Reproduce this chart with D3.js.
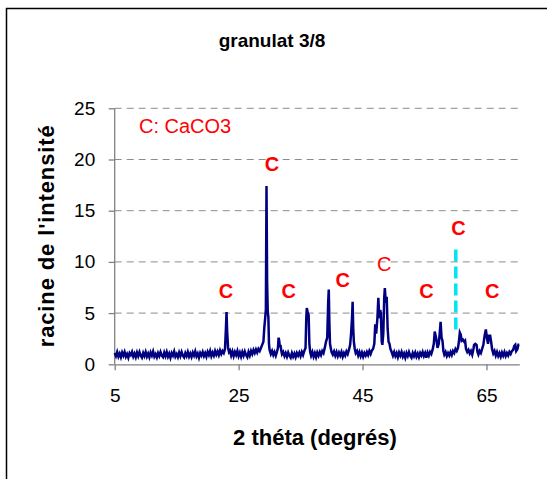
<!DOCTYPE html>
<html>
<head>
<meta charset="utf-8">
<script src="https://cdn.jsdelivr.net/npm/d3@7/dist/d3.min.js"></script>
<style>
  html, body { margin: 0; padding: 0; background: #fff; }
  svg { display: block; font-family: "Liberation Sans", Arial, sans-serif; }
</style>
</head>
<body>
<div id="chart"></div>
<script>
// ─── Data ──────────────────────────────────────────────────────
const chartTitle = 'granulat 3/8';
const xTitle = '2 théta (degrés)';
const yTitle = "racine de l'intensité";
const legendText = 'C: CaCO3';

const xTicks = [5, 25, 45, 65];
const yTicks = [0, 5, 10, 15, 20, 25];

// [2θ, √I], one block per stretch of the scan
const scanLow = [
  [5.0,1.1],[5.2,0.8],[5.4,1.2],[5.6,0.75],[5.8,1.05],[6.0,0.7],[6.2,1.15],[6.4,0.85],
  [6.6,1.2],[6.8,0.75],[7.0,1.0],[7.2,0.65],[7.4,1.1],[7.6,0.9],[7.8,1.2],[8.0,0.75],
  [8.2,1.05],[8.4,0.7],[8.6,1.15],[8.8,0.8],[9.0,1.2],[9.2,0.85],[9.4,0.65],[9.6,1.1],
  [9.8,0.8],[10.0,1.2],[10.2,0.75],[10.4,1.05],[10.6,0.7],[10.8,1.15],[11.0,0.85],[11.2,1.25],
  [11.4,0.75],[11.6,1.0],[11.8,0.68],[12.0,1.1],[12.2,0.8],[12.4,1.2],[12.6,0.85],[12.8,0.7],
  [13.0,1.15],[13.2,0.8],[13.4,1.2],[13.6,0.75],[13.8,1.05],[14.0,0.65],[14.2,1.1],[14.4,0.85],
  [14.6,1.25],[14.8,0.75],[15.0,1.0],[15.2,0.7],[15.4,1.15],[15.6,0.8],[15.8,1.2],[16.0,0.85],
  [16.2,0.68],[16.4,1.1],[16.6,0.8],[16.8,1.2],[17.0,0.75],[17.2,1.05],[17.4,0.72],[17.6,1.15],
  [17.8,0.85],[18.0,1.25],[18.2,0.78],[18.4,1.05],[18.6,0.65],[18.8,1.1],[19.0,0.85],[19.2,1.2],
  [19.4,0.8],[19.6,1.1],[19.8,0.75],[20.0,1.2],[20.2,0.9],[20.4,1.3],[20.6,0.8],[20.8,1.15],
  [21.0,0.85],[21.2,1.3],[21.4,0.95],[21.6,1.25],[21.8,0.9],[22.0,1.35],[22.2,1.0],[22.4,1.3],
  [22.6,1.1],[22.8,1.5],[22.95,3.5],[23.05,5.1],[23.15,3.2],[23.3,1.6],[23.45,1.2],[23.6,1.35],
  [23.8,0.85],[24.0,1.25],[24.2,0.8],[24.4,1.2],[24.6,0.9],[24.8,1.3],[25.0,0.8],[25.2,1.15],
  [25.4,0.75],[25.6,1.2],[25.8,0.85],[26.0,1.25],[26.2,0.9],[26.4,0.7],[26.6,1.2],[26.8,0.85],
  [27.0,1.3],[27.2,1.0],[27.4,1.4],[27.6,1.1],[27.8,1.45],[28.0,1.15],[28.2,1.5],[28.4,1.3],
  [28.6,1.6],[28.8,1.9],[29.0,2.2],[29.15,3.6],[29.3,4.6],[29.4,5.4],[29.5,17.4],[29.6,8.0],
  [29.7,5.2],[29.8,4.6],[29.9,2.0],[30.0,1.4],[30.2,1.0],[30.4,1.3],[30.6,0.9],[30.8,1.2],
  [31.0,0.85],[31.2,1.25],[31.35,1.6],[31.45,2.6],[31.55,2.3],[31.65,1.7],[31.75,1.9],[31.9,1.3]
];

const scanMid = [
  [32.0,1.0],[32.2,1.2],[32.4,0.8],[32.6,1.1],[32.8,0.75],[33.0,1.15],[33.2,0.85],[33.4,0.65],
  [33.6,1.1],[33.8,0.75],[34.0,1.05],[34.2,0.7],[34.4,1.1],[34.6,0.85],[34.8,1.15],[35.0,0.8],
  [35.2,1.2],[35.4,0.9],[35.6,1.3],[35.8,1.6],[35.92,4.5],[36.0,5.5],[36.15,5.1],[36.3,4.8],
  [36.42,2.0],[36.55,1.2],[36.7,0.85],[36.9,1.2],[37.1,0.75],[37.3,1.1],[37.5,0.7],[37.7,1.15],
  [37.9,0.85],[38.1,1.2],[38.3,0.9],[38.5,1.3],[38.7,1.1],[38.9,1.6],[39.1,2.2],[39.3,2.6],
  [39.45,6.0],[39.55,7.3],[39.65,4.0],[39.75,2.0],[39.9,1.5],[40.0,1.2],[40.2,0.95],[40.4,1.25],
  [40.6,0.85],[40.8,1.2],[41.0,0.8],[41.2,1.15],[41.4,0.85],[41.6,1.2],[41.8,0.75],[42.0,1.1],
  [42.2,0.85],[42.4,1.25],[42.6,1.0],[42.8,1.4],[43.0,1.9],[43.15,3.0],[43.3,4.5],[43.4,6.1],
  [43.5,3.5],[43.6,2.2],[43.75,1.5],[43.9,1.1],[44.1,1.3],[44.3,0.85],[44.5,1.2],[44.7,0.8],
  [44.9,1.15],[45.1,0.75],[45.3,1.1],[45.5,0.85],[45.7,1.2],[45.9,0.9],[46.1,1.3],[46.3,1.0],
  [46.5,1.35],[46.7,1.5],[46.9,2.0],[47.05,3.9],[47.2,3.0],[47.4,4.5],[47.55,6.5],[47.7,4.5],
  [47.85,5.3],[47.95,5.0],[48.1,2.2],[48.2,1.9],[48.35,3.0],[48.5,6.5],[48.6,7.45],[48.75,6.0],
  [48.9,6.6],[49.05,3.5],[49.2,2.2],[49.35,2.0],[49.5,1.5],[49.7,1.2],[49.9,0.85],[50.1,1.2]
];

const scanHigh = [
  [50.3,0.8],[50.5,1.1],[50.7,0.7],[50.9,1.15],[51.1,0.85],[51.3,1.2],[51.5,0.75],[51.7,1.05],
  [51.9,0.65],[52.1,1.1],[52.3,0.8],[52.5,1.2],[52.7,0.85],[52.9,0.65],[53.1,1.1],[53.3,0.8],
  [53.5,1.15],[53.7,0.75],[53.9,1.05],[54.1,0.7],[54.3,1.1],[54.5,0.85],[54.7,1.2],[54.9,0.8],
  [55.1,1.1],[55.3,0.65],[55.5,1.15],[55.7,0.85],[55.9,1.2],[56.1,1.0],[56.3,1.4],[56.5,2.0],
  [56.65,3.2],[56.8,2.8],[56.95,2.3],[57.1,1.6],[57.3,2.0],[57.45,3.0],[57.6,4.15],[57.75,2.6],
  [57.9,2.3],[58.05,1.3],[58.2,0.95],[58.4,1.2],[58.6,0.8],[58.8,1.1],[59.0,0.85],[59.2,1.2],
  [59.4,0.9],[59.6,1.3],[59.8,1.1],[60.0,1.5],[60.2,1.3],[60.4,1.6],[60.55,2.2],[60.7,3.1],
  [60.85,2.9],[61.0,2.3],[61.2,2.4],[61.4,2.2],[61.55,2.3],[61.7,1.5],[61.9,1.2],[62.1,1.4],
  [62.3,1.05],[62.5,1.3],[62.7,0.95],[62.9,1.5],[63.0,1.9],[63.2,2.0],[63.4,1.9],[63.55,1.2],
  [63.7,0.95],[63.9,1.3],[64.1,1.1],[64.3,1.5],[64.5,1.9],[64.7,2.8],[64.9,3.4],[65.1,2.5],
  [65.25,2.0],[65.4,2.8],[65.6,2.8],[65.75,2.2],[65.9,1.5],[66.1,1.05],[66.3,1.3],[66.5,0.85],
  [66.7,1.2],[66.9,0.8],[67.1,1.1],[67.3,0.75],[67.5,1.15],[67.7,0.85],[67.9,1.2],[68.1,0.8],
  [68.3,1.1],[68.5,0.85],[68.7,1.2],[68.9,1.0],[69.1,1.3],[69.3,1.4],[69.5,1.8],[69.65,1.9],
  [69.8,1.3],[70.0,1.5],[70.15,1.9],[70.3,1.9]
];

// calcite markers "C": 2θ and height of the letter centre
const markerAngles  = [22.95, 30.4, 33.1, 41.8, 48.5, 55.3, 60.5, 65.95];
const markerHeights = [7.2, 19.55, 7.15, 8.3, 9.8, 7.15, 13.3, 7.15];
const thinMarker = 4; // the one drawn in regular weight

// cyan dashed reference line
const refAngle = 60.05;
const refRange = [3.2, 11.2];

// ─── Layout ────────────────────────────────────────────────────
const W = 547, H = 479;
const plot = { left: 114.7, right: 519.3, top: 108.3, bottom: 364.3 };
const FONT = '"Liberation Sans", Arial, sans-serif';

const svg = d3.select('#chart').append('svg')
  .attr('width', W).attr('height', H);

// chart area frame (runs off the right and bottom edges)
svg.append('rect')
  .attr('x', 6.5).attr('y', 8.5)
  .attr('width', W + 10).attr('height', H + 10)
  .attr('fill', '#fff')
  .attr('stroke', '#000').attr('stroke-width', 1.5);

const x = d3.scaleLinear().domain([5, 70.3]).range([plot.left, plot.right]);
const y = d3.scaleLinear().domain([0, 25]).range([plot.bottom, plot.top]);

// gridlines
svg.append('g')
  .selectAll('line')
  .data(yTicks.filter(t => t > 0))
  .join('line')
  .attr('x1', plot.left).attr('x2', plot.right)
  .attr('y1', d => y(d)).attr('y2', d => y(d))
  .attr('stroke', '#8c8c8c').attr('stroke-width', 1)
  .attr('stroke-dasharray', '7,5');

// axes
const yAxis = d3.axisLeft(y).tickValues(yTicks).tickSize(6).tickPadding(13.5);
const xAxis = d3.axisBottom(x).tickValues(xTicks).tickSize(6).tickPadding(18).tickSizeOuter(0);

const gy = svg.append('g').attr('transform', `translate(${plot.left},0)`).call(yAxis);
const gx = svg.append('g').attr('transform', `translate(0,${plot.bottom})`).call(xAxis);

[gx, gy].forEach(g => {
  g.select('.domain').attr('stroke', '#808080').attr('stroke-width', 1.3);
  g.selectAll('.tick line').attr('stroke', '#808080').attr('stroke-width', 1.3);
  g.selectAll('.tick text')
    .attr('font-family', FONT).attr('font-size', 19).attr('fill', '#000');
});
gy.select('.domain').attr('d', `M0,${plot.bottom}V${plot.top}`);

// scan trace
const trace = scanLow.concat(scanMid, scanHigh);
const line = d3.line().x(d => x(d[0])).y(d => y(d[1]));

svg.append('path')
  .datum(trace)
  .attr('d', line)
  .attr('fill', 'none')
  .attr('stroke', '#000080')
  .attr('stroke-width', 2.5)
  .attr('stroke-linejoin', 'miter');

// cyan reference line
svg.append('line')
  .attr('x1', x(refAngle)).attr('x2', x(refAngle))
  .attr('y1', y(refRange[1])).attr('y2', y(refRange[0]))
  .attr('stroke', '#00e5f0').attr('stroke-width', 3.5)
  .attr('stroke-dasharray', '12,5');

// markers
svg.append('g')
  .selectAll('text')
  .data(markerAngles)
  .join('text')
  .attr('x', d => x(d))
  .attr('y', (d, i) => y(markerHeights[i]))
  .attr('dy', '0.36em')
  .attr('text-anchor', 'middle')
  .attr('font-family', FONT)
  .attr('font-size', 20)
  .attr('font-weight', (d, i) => i === thinMarker ? 'normal' : 'bold')
  .attr('fill', '#ff0000')
  .text('C');

// legend note
svg.append('text')
  .attr('x', 139).attr('y', 132.5)
  .attr('font-family', FONT).attr('font-size', 20)
  .attr('fill', '#ff0000')
  .text(legendText);

// titles
svg.append('text')
  .attr('x', 272).attr('y', 46.5)
  .attr('text-anchor', 'middle')
  .attr('font-family', FONT).attr('font-size', 19).attr('font-weight', 'bold')
  .text(chartTitle);

svg.append('text')
  .attr('x', (plot.left + plot.right) / 2 - 2).attr('y', 445)
  .attr('text-anchor', 'middle')
  .attr('font-family', FONT).attr('font-size', 22).attr('font-weight', 'bold')
  .text(xTitle);

svg.append('text')
  .attr('transform', `translate(54,${(plot.top + plot.bottom) / 2}) rotate(-90)`)
  .attr('text-anchor', 'middle')
  .attr('font-family', FONT).attr('font-size', 22).attr('font-weight', 'bold')
  .attr('textLength', 222).attr('lengthAdjust', 'spacing')
  .text(yTitle);
</script>
</body>
</html>
